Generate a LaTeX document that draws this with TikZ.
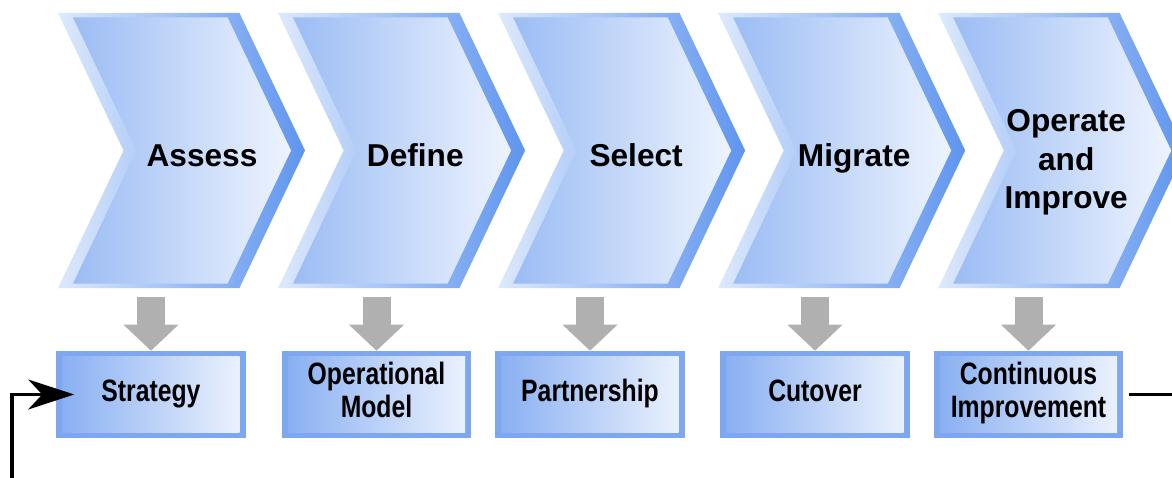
\documentclass[tikz,border=0pt]{standalone}
\usepackage{fontspec}
\setmainfont{Liberation Sans}
\newfontfamily\narrowfont{Liberation Sans}[FakeStretch=0.8]
\usetikzlibrary{shapes.symbols, arrows.meta, positioning}

\definecolor{rimpale}{HTML}{DDE9FC}
\definecolor{rimblue}{HTML}{5F95EE}
\definecolor{phaseleft}{HTML}{9BBCF4}
\definecolor{phaseright}{HTML}{EEF4FE}
\definecolor{boxrim}{HTML}{7EA7EF}
\definecolor{boxleft}{HTML}{8AB0F2}
\definecolor{boxright}{HTML}{EAF1FD}
\definecolor{dropgray}{HTML}{B0B0B0}

\tikzstyle{phaserim} = [signal, signal from=west, signal to=east, signal pointer angle=129, inner sep=0pt, minimum width=6.175cm, minimum height=6.875cm, left color=rimpale, right color=rimblue]
\tikzstyle{phase} = [signal, signal from=west, signal to=east, signal pointer angle=129, inner sep=0pt, minimum width=5.45cm, minimum height=6.65cm, left color=phaseleft, right color=phaseright]
\tikzstyle{phasetext} = [anchor=base, align=center, font=\bfseries\fontsize{22.5}{27.5}\selectfont]
\tikzstyle{resultrim} = [rectangle, minimum width=4.725cm, minimum height=2.175cm, fill=boxrim]
\tikzstyle{result} = [rectangle, inner sep=0pt, minimum width=4.425cm, minimum height=1.875cm, left color=boxleft, right color=boxright, align=center, font=\narrowfont\bfseries\fontsize{22}{23.5}\selectfont, execute at begin node=\strut]
\tikzstyle{drop} = [draw=dropgray, line width=0.7cm, -{Triangle[width=1.375cm 0 0, length=0.65cm 0 0, line width=0pt]}, shorten <=0.225cm]
\tikzstyle{feedback} = [line width=2.3pt, -{Stealth[length=1.15cm 0 0, width=0.75cm 0 0, inset=0.35cm 0 0]}]

\begin{document}
\begin{tikzpicture}[x=0.025cm, y=-0.025cm, node distance=5.5cm]
\useasboundingbox (0,0) rectangle (1172,478);

% Phases
\node (assessrim) [phaserim] at (181.5,150.5) {};
\node (definerim) [phaserim, right of=assessrim] {};
\node (selectrim) [phaserim, right of=definerim] {};
\node (migraterim) [phaserim, right of=selectrim] {};
\node (operaterim) [phaserim, right of=migraterim] {};
\node (assess) [phase, at=(assessrim), xshift=0.0125cm] {};
\node (define) [phase, at=(definerim), xshift=0.0125cm] {};
\node (select) [phase, at=(selectrim), xshift=0.0125cm] {};
\node (migrate) [phase, at=(migraterim), xshift=0.0125cm] {};
\node (operate) [phase, at=(operaterim), xshift=0.0125cm] {};
\node (assesstext) [phasetext] at ([xshift=0.5cm, yshift=-0.4cm]assess.center) {Assess};
\node (definetext) [phasetext] at ([xshift=0.33cm, yshift=-0.4cm]define.center) {Define};
\node (selecttext) [phasetext] at ([xshift=0.35cm, yshift=-0.4cm]select.center) {Select};
\node (migratetext) [phasetext] at ([xshift=0.3cm, yshift=-0.4cm]migrate.center) {Migrate};
\node (operatetext) [phasetext, anchor=center] at ([xshift=0.1cm, yshift=-0.3cm]operate.center) {Operate\\and\\Improve};

% Results
\node (strategyrim) [resultrim] at (151,394.5) {};
\node (operationalrim) [resultrim] at (376.5,394.5) {};
\node (partnershiprim) [resultrim] at (590,394.5) {};
\node (cutoverrim) [resultrim] at (815,394.5) {};
\node (improvementrim) [resultrim] at (1028.5,394.5) {};
\node (strategy) [result, at=(strategyrim)] {Strategy};
\node (operational) [result, at=(operationalrim)] {Operational\\Model};
\node (partnership) [result, at=(partnershiprim)] {Partnership};
\node (cutover) [result, at=(cutoverrim)] {Cutover};
\node (improvement) [result, at=(improvementrim)] {Continuous\\Improvement};

% Arrows down
\draw [drop] (strategyrim.north |- assessrim.south) -- (strategyrim.north);
\draw [drop] (operationalrim.north |- definerim.south) -- (operationalrim.north);
\draw [drop] (partnershiprim.north |- selectrim.south) -- (partnershiprim.north);
\draw [drop] (cutoverrim.north |- migraterim.south) -- (cutoverrim.north);
\draw [drop] (improvementrim.north |- operaterim.south) -- (improvementrim.north);

% Loop back
\coordinate (turnright) at (1210,520);
\coordinate (turnleft) at (12,520);
\draw [feedback, shorten <=0.3cm, shorten >=-0.3cm] (improvement.east) -| (turnright) -- (turnleft) |- (strategy.west);

\end{tikzpicture}
\end{document}
